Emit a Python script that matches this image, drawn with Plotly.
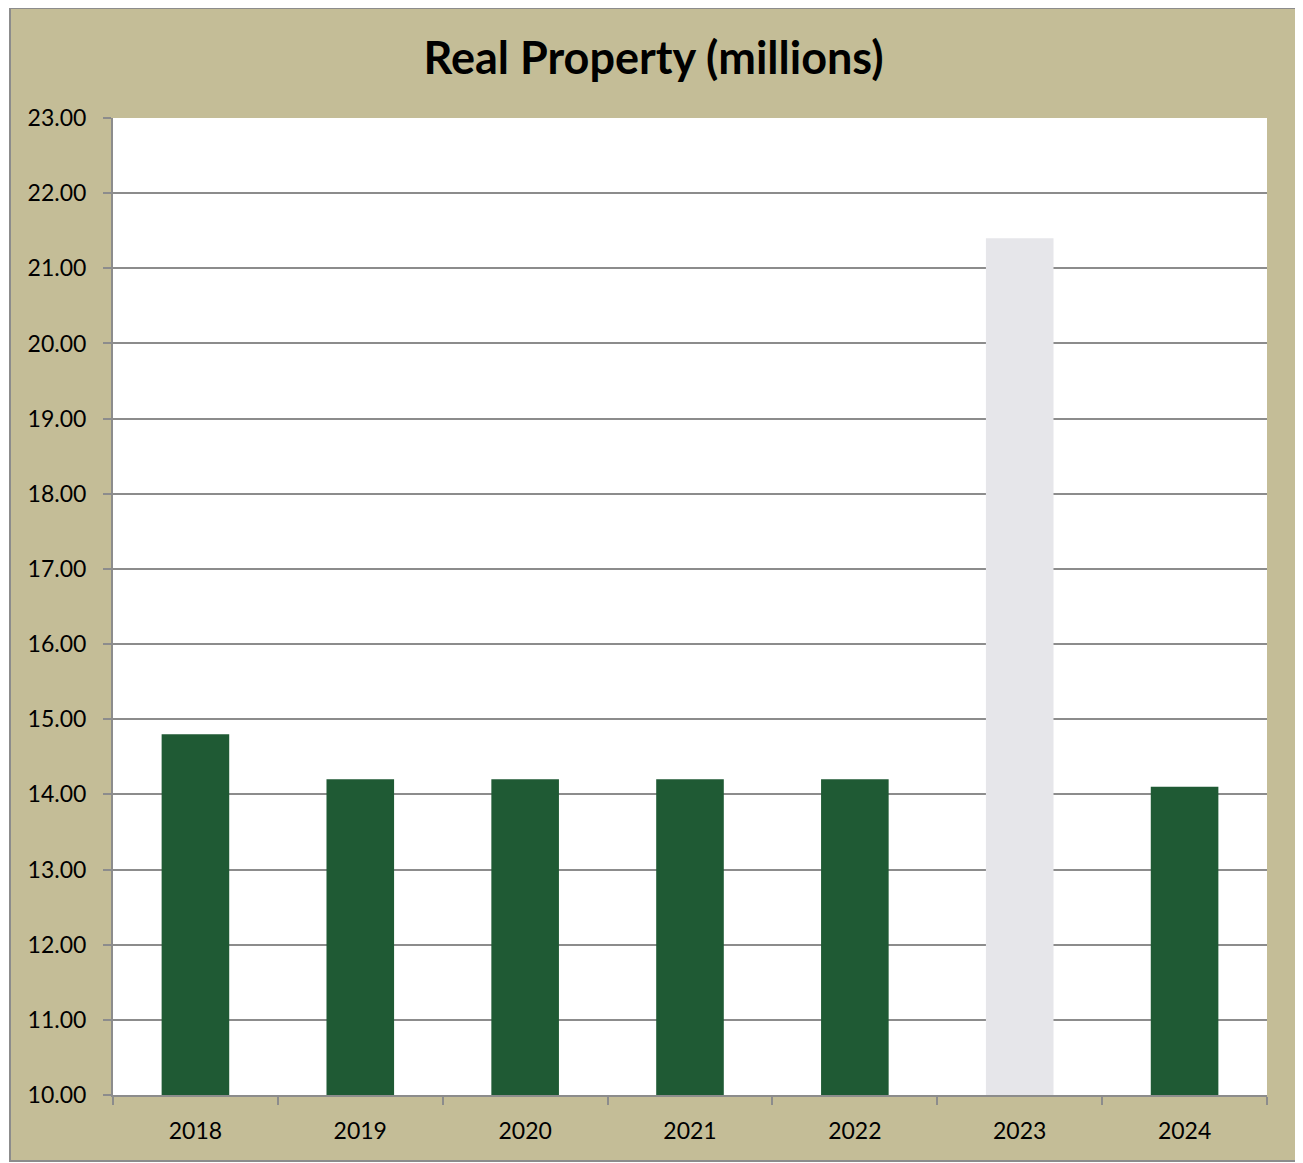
import plotly.graph_objects as go

years = ["2018", "2019", "2020", "2021", "2022", "2023", "2024"]
values = [14.80, 14.20, 14.20, 14.20, 14.20, 21.40, 14.10]
bar_colors = ["#1F5A34", "#1F5A34", "#1F5A34", "#1F5A34", "#1F5A34", "#E6E6EA", "#1F5A34"]
y_ticks = [10, 11, 12, 13, 14, 15, 16, 17, 18, 19, 20, 21, 22, 23]
y_tick_labels = [f"{v:.2f}" for v in y_ticks]

W, H = 1291, 1155
ml, mt = 105, 110
mr = W - 1259
mb = H - 1087
pw, ph = W - ml - mr, H - mt - mb

def px_x(p):
    return (p - ml) / pw

def px_y(p):
    return (H - mb - p) / ph

fig = go.Figure()
fig.add_trace(go.Bar(
    x=years, y=values,
    marker=dict(color=bar_colors, line=dict(width=0)),
    width=0.41,
    hoverinfo="x+y",
))

fig.add_shape(type="rect", xref="paper", yref="paper",
              x0=px_x(2), x1=px_x(1289), y0=px_y(1153), y1=px_y(0),
              fillcolor="#C4BD97", line=dict(color="#8C8C8C", width=2), layer="below")
fig.add_shape(type="rect", xref="paper", yref="paper",
              x0=0, x1=1, y0=0, y1=1,
              fillcolor="#FFFFFF", line=dict(width=0), layer="below")

fig.update_layout(
    width=W, height=H,
    margin=dict(l=ml, r=mr, t=mt, b=mb, pad=0),
    paper_bgcolor="#FFFFFF",
    plot_bgcolor="rgba(0,0,0,0)",
    showlegend=False,
    title=dict(text="<b>Real Property (millions)</b>", x=0.5, xref="container",
               xanchor="center", y=1 - 50 / H, yanchor="middle",
               font=dict(family="Lato, Open Sans, sans-serif", size=45, color="#000000")),
    font=dict(family="Lato, Open Sans, sans-serif", size=23, color="#000000"),
    xaxis=dict(type="category", showgrid=False, showline=True, linecolor="#8C8C8C",
               linewidth=2, ticks="outside", tickson="boundaries", ticklen=8,
               tickcolor="#8C8C8C", tickwidth=2, tickfont=dict(size=23),
               ticklabelstandoff=14),
    yaxis=dict(range=[10, 23], tickvals=y_ticks, ticktext=y_tick_labels,
               showgrid=True, gridcolor="#8C8C8C", gridwidth=2, zeroline=False,
               showline=True, linecolor="#8C8C8C", linewidth=2,
               ticks="outside", ticklen=8, tickcolor="#8C8C8C", tickwidth=2,
               tickfont=dict(size=23), ticklabelstandoff=12),
)

fig.write_html("out.html")
